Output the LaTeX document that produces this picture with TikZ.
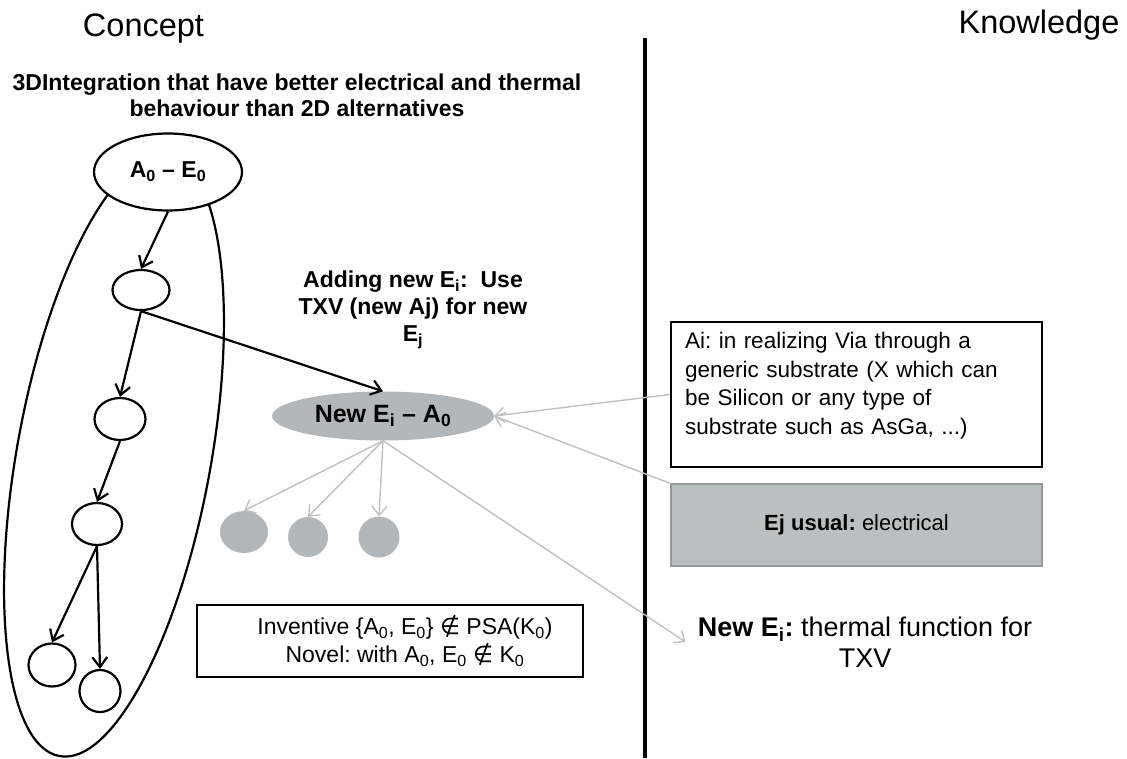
\documentclass[tikz,border=0pt]{standalone}
\usepackage{fontspec}
\setmainfont{Liberation Sans}
\newfontfamily\symfont{DejaVu Sans}
\usetikzlibrary{arrows.meta,shapes.geometric}
\definecolor{gfill}{RGB}{180,183,185}
\definecolor{gbox}{RGB}{187,191,192}
\definecolor{gline}{RGB}{150,152,153}
\definecolor{garrow}{RGB}{192,192,192}
\newcommand{\nin}{{\symfont ∉}}
\begin{document}
\frenchspacing
\begin{tikzpicture}[x=1pt,y=-1pt,
  blkarrow/.style={line width=2.2pt,-{Straight Barb[length=10pt,width=15pt,line width=2.2pt]}},
  grayarrow/.style={draw=garrow,line width=1.4pt,-{Straight Barb[length=9pt,width=15pt,line width=1.4pt]}},
  bignode/.style={ellipse,draw,line width=2.2pt,fill=white,inner sep=0pt},
  smallnode/.style={ellipse,draw,line width=2.2pt,fill=white,inner sep=0pt},
  graydot/.style={ellipse,fill=gfill,inner sep=0pt},
  boxed/.style={rectangle,draw,line width=2.5pt,inner sep=0pt}
]
\useasboundingbox (0,0) rectangle (1127,758);

% headers
\node[font=\fontsize{32.5}{38}\selectfont,anchor=base] (concept) at (143.5,36) {Concept};
\node[font=\fontsize{32.5}{38}\selectfont,anchor=base] (know) at (1039,33) {Knowledge};
\coordinate (vtop) at (645,38);
\coordinate (vbot) at (645,758);
\draw[line width=3.5pt] (vtop) -- (vbot);

\node[font=\bfseries\fontsize{23}{26}\selectfont,align=center] (title) at (297,95)
  {3DIntegration that have better electrical and thermal\\behaviour than 2D alternatives};

% concept tree
\draw[line width=2.2pt,rotate around={-10.3:(114,456)}] (114,456) ellipse [x radius=97, y radius=305];
\node[bignode,minimum width=148pt,minimum height=77pt,font=\bfseries\fontsize{23}{26}\selectfont] (a0) at (168,172)
  {A\textsubscript{0} \textendash{} E\textsubscript{0}};
\node[smallnode,minimum width=57pt,minimum height=40pt] (n1) at (141,290) {};
\node[smallnode,minimum width=51pt,minimum height=42pt] (n2) at (120,419) {};
\node[smallnode,minimum width=50pt,minimum height=42pt] (n3) at (97,524) {};
\node[smallnode,minimum width=47pt,minimum height=43pt] (n4) at (52,665) {};
\node[smallnode,minimum width=41pt,minimum height=42pt] (n5) at (100,691) {};

\draw[blkarrow] (a0.south) -- (n1.north);
\draw[blkarrow] (n1.south) -- (n2.north);
\draw[blkarrow] (n2.south) -- (n3.north);
\draw[blkarrow] (n3.south) -- (n4.north);
\draw[blkarrow] (n3.south) -- (n5.north);

% new Ei
\node[font=\bfseries\fontsize{23}{27}\selectfont,align=center] (adding) at (413,310)
  {Adding new E\textsubscript{i}:~~Use\\TXV (new Aj) for new\\E\textsubscript{j}};
\node[ellipse,fill=gfill,inner sep=0pt,minimum width=222pt,minimum height=49pt,
  font=\bfseries\fontsize{25}{28}\selectfont] (ni) at (383,416)
  {New E\textsubscript{i} \textendash{} A\textsubscript{0}};
\draw[blkarrow] (n1.south) -- (ni.north);

\node[graydot,minimum width=48pt,minimum height=42pt] (c1) at (244,532) {};
\node[graydot,minimum width=40pt,minimum height=40pt] (c2) at (308,537) {};
\node[graydot,minimum width=41pt,minimum height=41pt] (c3) at (379,537) {};

% knowledge side
\node[boxed,minimum width=371pt,minimum height=145pt,text width=343pt,align=left,
  font=\fontsize{22.5}{28.5}\selectfont] (ai) at (856.5,394.5)
  {Ai: in realizing Via through a\\generic substrate (X which can\\be Silicon or any type of\\substrate such as AsGa, ...)\\[-6pt]\mbox{}};
\node[rectangle,draw=gline,line width=1.2pt,fill=gbox,minimum width=371pt,minimum height=82pt,
  font=\fontsize{22}{26}\selectfont] (ej) at (856.5,525)
  {\textbf{Ej usual:} electrical};

\node[boxed,minimum width=386pt,minimum height=72pt] (inv) at (390,641) {};
\node[align=center,inner sep=0pt,font=\fontsize{23}{28}\selectfont] (invtext) at (405,641)
  {Inventive \{A\textsubscript{0}, E\textsubscript{0}\} \nin{} PSA(K\textsubscript{0})\\Novel: with A\textsubscript{0}, E\textsubscript{0} \nin{} K\textsubscript{0}};

\node[align=center,inner xsep=12pt,font=\fontsize{27}{31}\selectfont] (nt) at (865,642)
  {\textbf{New E\textsubscript{i}:} thermal function for\\TXV};

% gray connectors
\draw[grayarrow] (ni.south) -- (c1.north);
\draw[grayarrow] (ni.south) -- (c2.north);
\draw[grayarrow] (ni.south) -- (c3.north);
\draw[grayarrow] (ni.south) -- (nt.west);
\draw[grayarrow] (ai.west) -- (ni.east);
\draw[grayarrow] (ej.north west) -- (ni.east);
\end{tikzpicture}
\end{document}
